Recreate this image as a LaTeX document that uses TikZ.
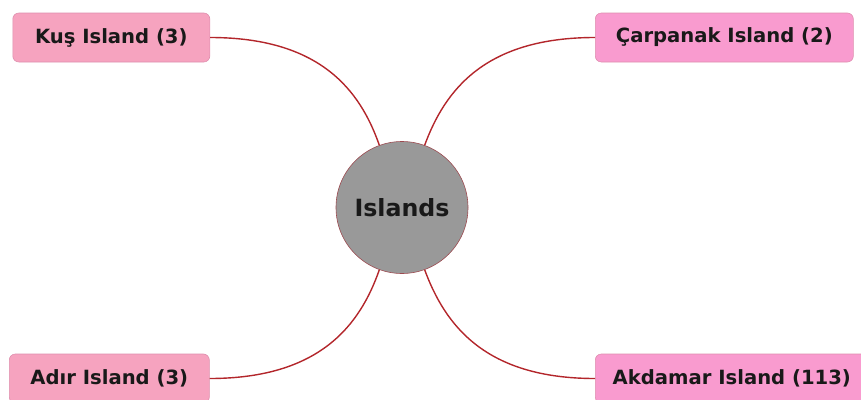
\documentclass[tikz,border=0pt]{standalone}
\usepackage{fontspec}
\setmainfont{DejaVu Sans}
\definecolor{leftpink}{HTML}{F6A3BF}
\definecolor{rightpink}{HTML}{F99BCF}
\definecolor{boxedge}{HTML}{DE8FAE}
\definecolor{linkred}{HTML}{B3262B}
\definecolor{hubgray}{HTML}{999999}
\definecolor{hubedge}{HTML}{9C4A50}
\begin{document}
\begin{tikzpicture}[x=1pt,y=-1pt,
  topic/.style={draw=boxedge, line width=0.6pt, rounded corners=6pt, minimum height=49pt,
    anchor=west, inner sep=0pt, font=\bfseries\fontsize{19.6}{23}\selectfont, text=black!90},
  hub/.style={circle, draw=hubedge, line width=0.6pt, fill=hubgray, minimum size=132pt, inner sep=0pt,
    font=\bfseries\fontsize{23.7}{27}\selectfont, text=black!90},
  link/.style={draw=linkred, line width=1.4pt}]
\useasboundingbox (0,0) rectangle (861,399);
\node[hub] (c) at (402,207.5) {Islands};
\node[topic, fill=leftpink, minimum width=197pt] (kus) at (12.5,37.5) {Kuş Island (3)};
\node[topic, fill=rightpink, minimum width=258pt] (car) at (595,37.5) {Çarpanak Island (2)};
\node[topic, fill=leftpink, minimum width=200pt] (adir) at (9,378.5) {Adır Island (3)};
\node[topic, fill=rightpink, minimum width=273pt] (akd) at (595,378.5) {Akdamar Island (113)};
\draw[link] (kus.east) .. controls (320,37.5) and (360,90) .. (c.110);
\draw[link] (car.west) .. controls (485,37.5) and (445,90) .. (c.70);
\draw[link] (adir.east) .. controls (320,378.5) and (360,325) .. (c.250);
\draw[link] (akd.west) .. controls (485,378.5) and (445,325) .. (c.290);
\end{tikzpicture}
\end{document}
